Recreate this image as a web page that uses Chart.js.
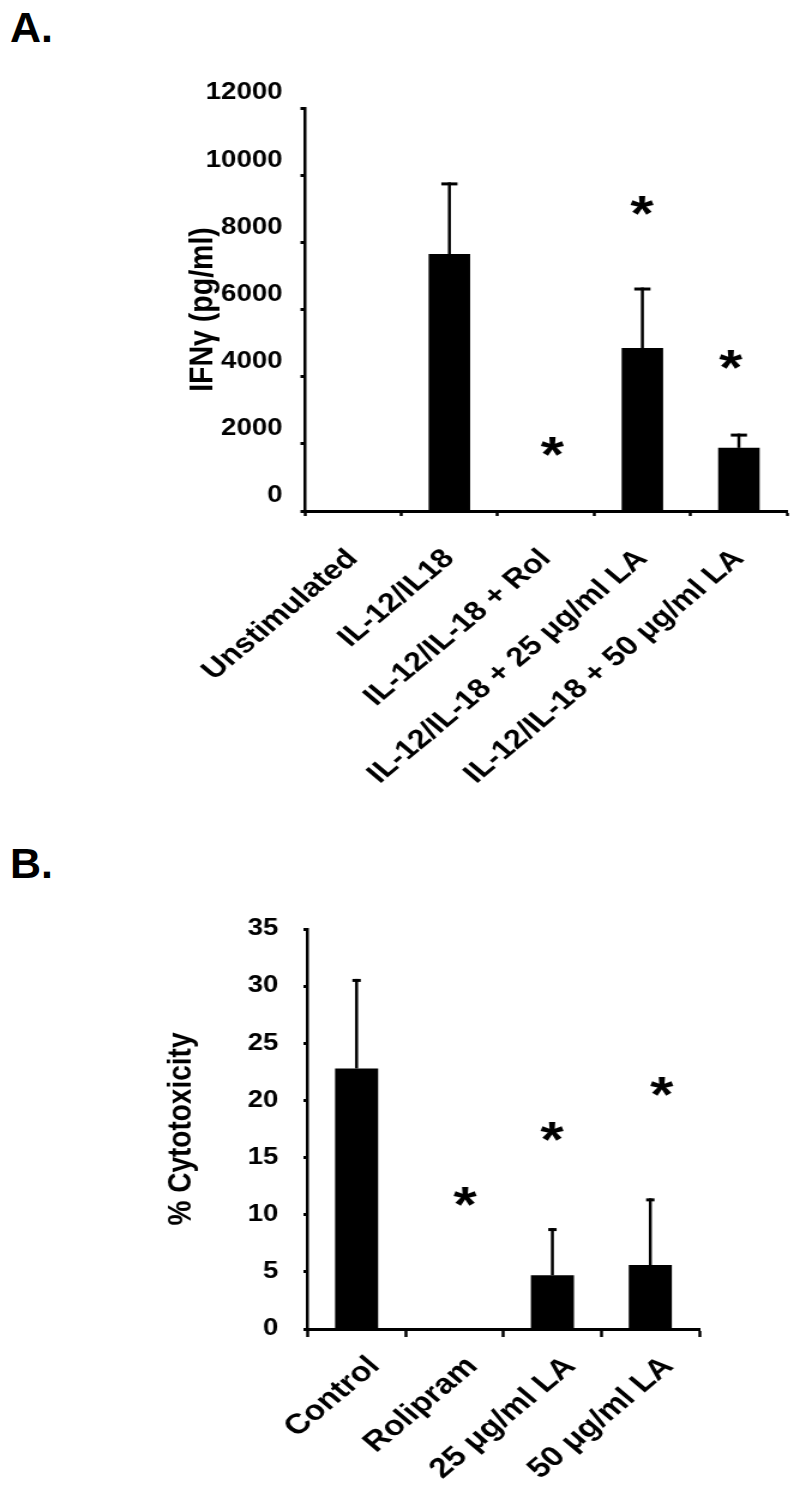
<!DOCTYPE html>
<html><head><meta charset="utf-8">
<script src="https://cdn.jsdelivr.net/npm/chart.js@4.4.0/dist/chart.umd.min.js"></script>
<style>
html,body{margin:0;padding:0;background:#fff;width:800px;height:1502px;overflow:hidden;}
.panel{position:absolute;left:10px;font:bold 43px 'Liberation Sans',Arial,sans-serif;line-height:43px;color:#000;}
#wa{position:absolute;left:0;top:0;width:800px;height:880px;}
#wb{position:absolute;left:0;top:880px;width:800px;height:622px;}
canvas{display:block;}
</style></head><body>
<div class="panel" style="top:6px">A.</div>
<div class="panel" style="top:842px">B.</div>
<!-- The original figure is stretched 1.2x horizontally: draw at 667px wide, display at 800px -->
<div id="wa"><canvas id="ca" width="667" height="880" style="width:800px;height:880px"></canvas></div>
<div id="wb"><canvas id="cb" width="667" height="622" style="width:800px;height:622px"></canvas></div>
<script>
// ---- Panel A data ----
const categoriesA = ['Unstimulated', 'IL-12/IL18', 'IL-12/IL-18 + Rol', 'IL-12/IL-18 + 25 \u03bcg/ml LA', 'IL-12/IL-18 + 50 \u03bcg/ml LA'];
const valuesA = [0, 7650, 0, 4850, 1880];
const errorsA = [0, 2090, 0, 1760, 380];
const yTicksA = [0, 2000, 4000, 6000, 8000, 10000, 12000];
const starXA = [2.07, 3.0, 3.92];
const starYA = [1915, 9110, 4500];

// ---- Panel B data ----
const categoriesB = ['Control', 'Rolipram', '25 \u03bcg/ml LA', '50 \u03bcg/ml LA'];
const valuesB = [22.8, 0, 4.7, 5.6];
const errorsB = [7.7, 0, 4.0, 5.7];
const yTicksB = [0, 5, 10, 15, 20, 25, 30, 35];
const starXB = [1.11, 2.0, 3.12];
const starYB = [11.6, 17.3, 21.2];

const FONT = "'Liberation Sans', Arial, sans-serif";

const extrasPlugin = {
  id: 'extras',
  afterDatasetsDraw(chart, args, opts) {
    const ctx = chart.ctx;
    const xs = chart.scales.x, ys = chart.scales.y;
    const meta = chart.getDatasetMeta(0);
    const vals = chart.data.datasets[0].data;
    ctx.save();
    ctx.strokeStyle = '#000';
    ctx.lineCap = 'butt';
    opts.errors.forEach((e, i) => {
      if (!e) return;
      const x = meta.data[i].x;
      const y0 = ys.getPixelForValue(vals[i]);
      const y1 = ys.getPixelForValue(vals[i] + e);
      ctx.lineWidth = 2.5;
      ctx.beginPath();
      ctx.moveTo(x, y0);
      ctx.lineTo(x, y1 - 1.5);
      ctx.stroke();
      ctx.lineWidth = 3;
      ctx.beginPath();
      ctx.moveTo(x - opts.cap / 2, y1);
      ctx.lineTo(x + opts.cap / 2, y1);
      ctx.stroke();
    });
    ctx.fillStyle = '#000';
    ctx.font = opts.starFont;
    ctx.textAlign = 'left';
    ctx.textBaseline = 'alphabetic';
    const m = ctx.measureText('*');
    const dx = (m.actualBoundingBoxRight - m.actualBoundingBoxLeft) / 2;
    const dy = (m.actualBoundingBoxDescent - m.actualBoundingBoxAscent) / 2;
    opts.starX.forEach((sx, i) => {
      const px = xs.getPixelForValue(sx);
      const py = ys.getPixelForValue(opts.starY[i]);
      ctx.fillText('*', px - dx, py - dy);
    });
    ctx.restore();
  }
};

function makeChart(id, cfg) {
  return new Chart(document.getElementById(id), {
    type: 'bar',
    data: {
      labels: cfg.labels,
      datasets: [{
        data: cfg.values,
        backgroundColor: '#000',
        borderWidth: 0,
        categoryPercentage: 1,
        barPercentage: cfg.barPct
      }]
    },
    options: {
      responsive: false,
      animation: false,
      events: [],
      layout: { padding: { top: cfg.top, right: cfg.right, left: 0, bottom: 0 } },
      plugins: {
        legend: { display: false },
        tooltip: { enabled: false },
        extras: { errors: cfg.errors, cap: cfg.cap, starX: cfg.starX, starY: cfg.starY, starFont: "bold 50px 'Liberation Sans', Arial, sans-serif" }
      },
      scales: {
        x: {
          type: 'category',
          offset: true,
          grid: { display: true, offset: true, drawOnChartArea: false, drawTicks: true, tickLength: cfg.xTickLen, tickWidth: 2.5, tickColor: '#000' },
          border: { display: true, color: '#000', width: 3 },
          ticks: { autoSkip: false, minRotation: 45, maxRotation: 45, padding: cfg.xPad, labelOffset: cfg.xLabelOffset, color: '#000', font: { family: FONT, weight: 'bold', size: cfg.xFont } },
          afterFit: s => { s.height = cfg.xHeight; }
        },
        y: {
          min: cfg.yTicks[0],
          max: cfg.yTicks[cfg.yTicks.length - 1],
          afterBuildTicks: s => { s.ticks = cfg.yTicks.map(v => ({ value: v })); },
          grid: { display: true, drawOnChartArea: false, drawTicks: true, tickLength: 3.5, tickWidth: 3, tickColor: '#000' },
          border: { display: true, color: '#000', width: 2.5 },
          ticks: { padding: cfg.yPad, labelOffset: cfg.yLabelOffset, color: '#000', font: { family: FONT, weight: 'bold', size: 23 }, callback: v => String(v) },
          title: { display: true, text: cfg.title, color: '#000', font: { family: FONT, weight: 'bold', size: cfg.titleFont }, padding: { top: cfg.titlePad, bottom: 0 } },
          afterFit: s => { s.width = cfg.yWidth; }
        }
      }
    },
    plugins: [extrasPlugin]
  });
}

makeChart('ca', {
  labels: categoriesA, values: valuesA, errors: errorsA, yTicks: yTicksA,
  starX: starXA, starY: starYA, cap: 13.5, barPct: 0.43,
  top: 108, right: 10.5, xHeight: 369, yWidth: 254,
  xPad: 27, xLabelOffset: 0, xTickLen: 5, xFont: 27, yPad: 15, yLabelOffset: -15,
  title: 'IFN\u03b3 (pg/ml)', titleFont: 28.5, titlePad: 152
});

makeChart('cb', {
  labels: categoriesB, values: valuesB, errors: errorsB, yTicks: yTicksB,
  starX: starXB, starY: starYB, cap: 7, barPct: 0.44,
  top: 49, right: 84, xHeight: 173, yWidth: 256.5,
  xPad: 13, xLabelOffset: 15, xTickLen: 8, xFont: 28, yPad: 21, yLabelOffset: 0,
  title: '% Cytotoxicity', titleFont: 28, titlePad: 134
});
</script>
</body></html>
